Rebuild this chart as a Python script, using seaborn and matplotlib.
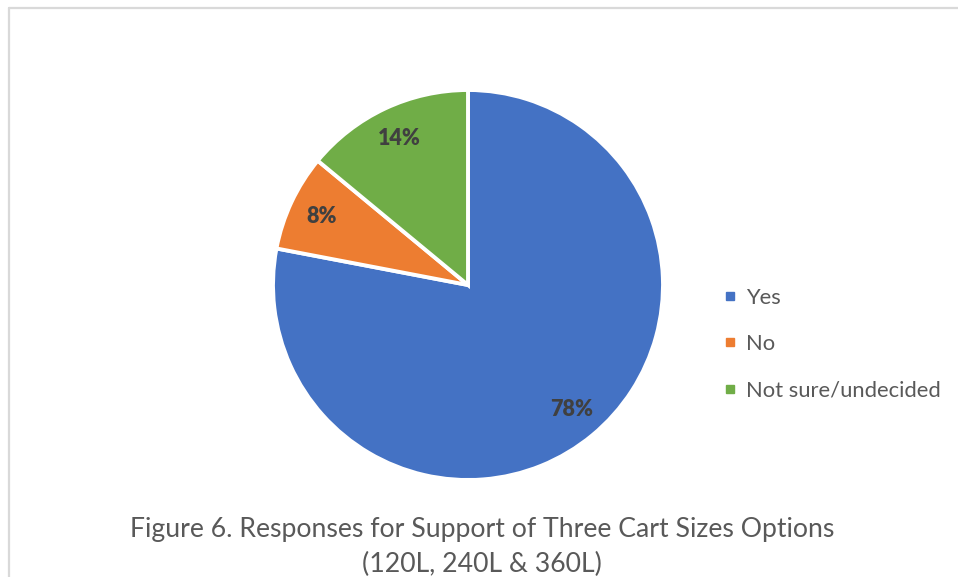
import matplotlib
matplotlib.use("Agg")
import matplotlib.pyplot as plt
from matplotlib.lines import Line2D
import seaborn as sns

# data
labels = ["Yes", "No", "Not sure/undecided"]
values = [78, 8, 14]
colors = ["#4472C4", "#ED7D31", "#70AD47"]
title = "Figure 6. Responses for Support of Three Cart Sizes Options\n(120L, 240L & 360L)"

sns.set_theme(style="white")
plt.rcParams["font.family"] = ["Lato", "DejaVu Sans"]

W, H = 958, 577
fig = plt.figure(figsize=(W / 100, H / 100), dpi=100)
fig.patch.set_facecolor("white")

# pie axes: center (468, 285), radius 195 px
cx, cy, r = 468, 285, 195
ax = fig.add_axes([(cx - r) / W, (H - cy - r) / H, 2 * r / W, 2 * r / H])
wedges, _, autotexts = ax.pie(
    values, colors=colors, startangle=90, counterclock=False,
    autopct="%1.0f%%", pctdistance=0.83, radius=1,
    wedgeprops=dict(edgecolor="white", linewidth=2.8),
    textprops=dict(color="#404040", fontsize=15.5, fontweight="heavy"),
)
ax.set_xlim(-1, 1)
ax.set_ylim(-1, 1)
ax.set_aspect("equal")
ax.axis("off")

# legend with small square markers
handles = [Line2D([], [], marker="s", linestyle="none", markersize=6,
                  markerfacecolor=c, markeredgecolor=c) for c in colors]
leg = fig.legend(handles, labels, loc="center left",
                 bbox_to_anchor=(716 / W, 1 - 344 / H), frameon=False,
                 fontsize=15.8, labelcolor="#595959", handlelength=0.5,
                 handletextpad=0.45, labelspacing=1.2, borderaxespad=0)

# caption
fig.text(482 / W, 1 - 547 / H, title, ha="center", va="center",
         fontsize=19.2, color="#595959", linespacing=1.45)

# chart frame (only left and top edges visible)
frame_col = "#D9D9D9"
fig.add_artist(Line2D([8.5 / W, 8.5 / W], [0, 1 - 7.5 / H], color=frame_col,
                      linewidth=1.6, transform=fig.transFigure))
fig.add_artist(Line2D([8.5 / W, 1], [1 - 7.5 / H, 1 - 7.5 / H], color=frame_col,
                      linewidth=1.6, transform=fig.transFigure))

fig.savefig("out.png", dpi=100, facecolor="white")
